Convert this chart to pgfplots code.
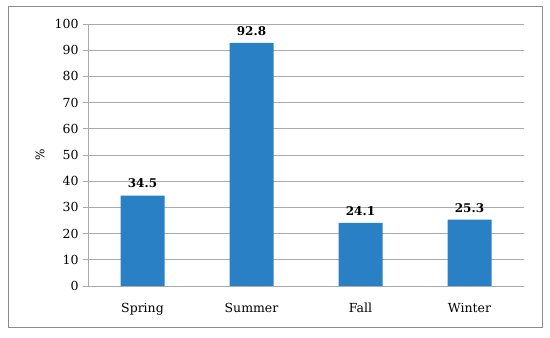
\documentclass[border=0pt]{standalone}
\usepackage{fontspec}
\setmainfont{DejaVu Serif}
\usepackage{pgfplots}
\pgfplotsset{compat=1.18}
\definecolor{barblue}{RGB}{41,128,196}
\definecolor{gridgray}{RGB}{170,170,170}
\definecolor{framegray}{RGB}{140,140,140}
\begin{document}
\begin{tikzpicture}
\begin{axis}[
  name=ax,
  scale only axis,
  width=436bp, height=262bp,
  xmin=-0.5, xmax=3.5,
  ymin=0, ymax=100,
  ytick={0,10,...,100},
  xtick={0,1,2,3},
  xticklabels={Spring,Summer,Fall,Winter},
  major x tick style={draw=none},
  extra x ticks={-0.5,0.5,1.5,2.5,3.5},
  extra x tick labels={},
  extra x tick style={major tick length=5bp, tick style={draw=gridgray, line width=0.8pt}, tick align=outside, grid=none},
  axis x line*=bottom,
  axis y line*=left,
  axis line style={draw=gridgray, line width=0.8pt, -},
  ymajorgrids,
  grid style={draw=gridgray, line width=0.8pt},
  y tick style={draw=gridgray, line width=0.8pt},
  tick align=outside,
  major tick length=5bp,
  ylabel={\%},
  ylabel style={at={(axis description cs:-0.11,0.5)}, anchor=center, font=\fontsize{12bp}{14bp}\selectfont},
  tick label style={font=\fontsize{12.5bp}{14bp}\selectfont},
  yticklabel style={xshift=-1bp},
  xticklabel style={yshift=-8bp, text height=9.5bp, text depth=3bp},
  ybar, bar width=44bp,
  nodes near coords,
  nodes near coords style={font=\fontsize{12bp}{13bp}\selectfont\bfseries, anchor=south, yshift=4bp, /pgf/number format/fixed, /pgf/number format/precision=1},
  /pgf/number format/assume math mode=true,
]
\addplot[fill=barblue, draw=none] coordinates {(0,34.5) (1,92.8) (2,24.1) (3,25.3)};
\end{axis}
\draw[framegray, line width=0.8pt] ([shift={(-80bp,-41bp)}]ax.south west) rectangle ([shift={(18bp,18bp)}]ax.north east);
\path ([shift={(-88bp,-52bp)}]ax.south west) rectangle ([shift={(26bp,24bp)}]ax.north east);
\end{tikzpicture}
\end{document}
